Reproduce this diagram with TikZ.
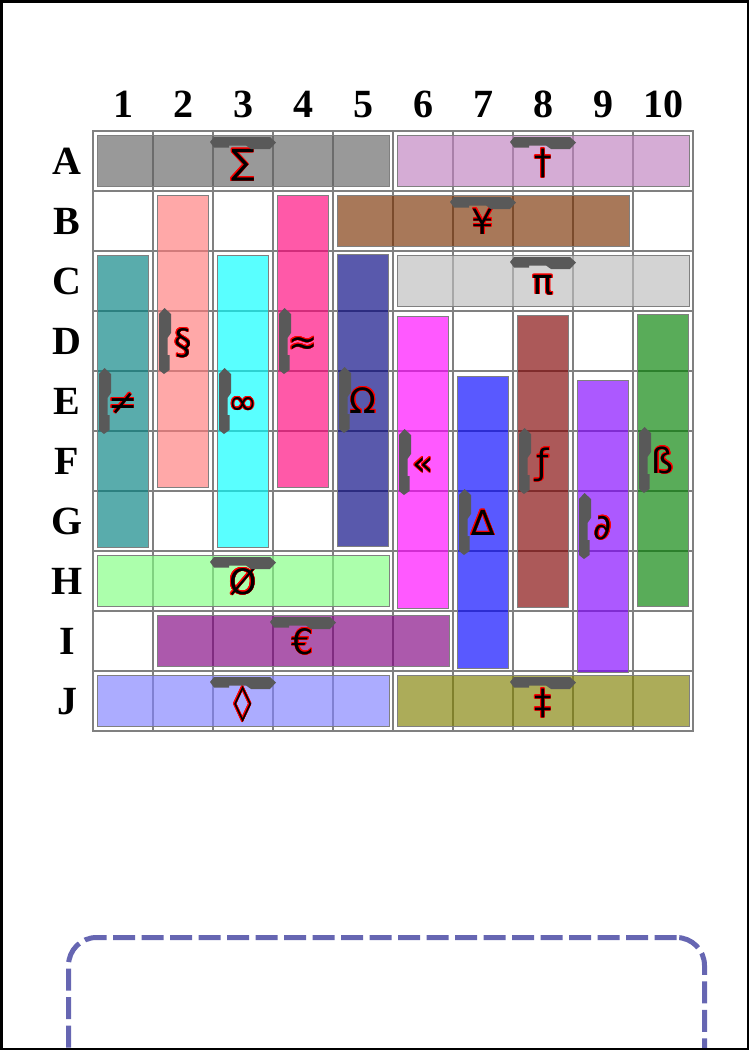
\documentclass[tikz,border=0pt]{standalone}
\usepackage{fontspec}
\setmainfont{Liberation Serif}
\newfontfamily\symfont{DejaVu Sans}
\usepackage{contour}
\contourlength{0.6pt}

% band colours (drawn at 65% fill opacity)
\definecolor{sumcol}{RGB}{98,98,98}
\definecolor{daggercol}{RGB}{191,128,191}
\definecolor{yencol}{RGB}{121,48,0}
\definecolor{picol}{RGB}{188,188,188}
\definecolor{neqcol}{RGB}{0,128,128}
\definecolor{sectcol}{RGB}{255,121,121}
\definecolor{inftycol}{RGB}{0,255,255}
\definecolor{approxcol}{RGB}{255,0,121}
\definecolor{omegacol}{RGB}{0,0,128}
\definecolor{guillcol}{RGB}{255,0,255}
\definecolor{deltacol}{RGB}{0,0,255}
\definecolor{fhookcol}{RGB}{128,0,0}
\definecolor{partialcol}{RGB}{128,0,255}
\definecolor{eszettcol}{RGB}{0,128,0}
\definecolor{oslashcol}{RGB}{128,255,128}
\definecolor{eurocol}{RGB}{128,0,128}
\definecolor{lozengecol}{RGB}{128,128,255}
\definecolor{ddaggercol}{RGB}{128,128,0}
\definecolor{tabgray}{RGB}{89,89,89}
\definecolor{notecol}{RGB}{102,102,178}

\begin{document}
\begin{tikzpicture}[
  x=1pt, y=-1pt,
  every node/.style={inner sep=0pt},
  head/.style={font=\fontsize{40}{40}\selectfont\bfseries, anchor=base},
  cell/.style={draw=gray, line width=1.2pt},
  band/.style={draw=gray, line width=1pt, fill opacity=0.65, text opacity=1,
               text height=26pt, text depth=0pt,
               font=\symfont\fontsize{35}{35}\selectfont},
  hband/.style={band, minimum width=292, minimum height=51},
  vband/.style={band, minimum width=51, minimum height=292},
  htab/.pic={\fill[tabgray] (-33,-19) -- (-29,-24) -- (27,-24) -- (33,-18.5)
    -- (27,-12) -- (8,-12) -- (3,-15.5) -- (-14,-15.5) -- (-14,-13.5)
    -- (-29,-13.5) -- cycle;},
  vtab/.pic={\fill[tabgray] (-19,33) -- (-24,29) -- (-24,-27) -- (-18.5,-33)
    -- (-12,-27) -- (-12,-8) -- (-15.5,-3) -- (-15.5,14) -- (-13.5,14)
    -- (-13.5,29) -- cycle;},
  notes/.style={draw=notecol, line width=5pt, dash pattern=on 22pt off 6.5pt,
                rounded corners=28pt, minimum width=636, minimum height=170,
                anchor=north west},
]
\useasboundingbox (0,0) rectangle (749,1050);
\clip (0,0) rectangle (749,1050);

% headers
\foreach \c in {1,...,10}
  \node[head] (col\c) at ({63+60*\c},117) {\c};
\foreach \r [count=\i] in {A,B,C,D,E,F,G,H,I,J}
  \node[head] (row\r) at (67,{114.5+60*\i}) {\r};

% grid
\foreach \c in {0,...,9}
  \foreach \r in {0,...,9}
    \draw[cell] ({93+60*\c},{131+60*\r}) rectangle ++(60,60);

% horizontal bands
\node[hband, fill=sumcol] (sum) at (243,161) {\contour{red}{∑}};
\node[hband, fill=daggercol] (dagger) at (543,161) {\contour{red}{†}};
\node[hband, fill=yencol] (yen) at (483,221) {\contour{red}{¥}};
\node[hband, fill=picol] (pi) at (543,281) {\contour{red}{π}};
\node[hband, fill=oslashcol] (oslash) at (243,581) {\contour{red}{Ø}};
\node[hband, fill=eurocol] (euro) at (303,641) {\contour{red}{€}};
\node[hband, fill=lozengecol] (lozenge) at (243,701) {\contour{red}{◊}};
\node[hband, fill=ddaggercol] (ddagger) at (543,701) {\contour{red}{‡}};

% vertical bands
\node[vband, fill=neqcol] (neq) at (123,401) {\contour{red}{≠}};
\node[vband, fill=sectcol] (sect) at (183,341) {\contour{red}{§}};
\node[vband, fill=inftycol] (infty) at (243,401) {\contour{red}{∞}};
\node[vband, fill=approxcol] (approx) at (303,341) {\contour{red}{≈}};
\node[vband, fill=omegacol] (omega) at (363,400) {\contour{red}{Ω}};
\node[vband, fill=guillcol] (guill) at (423,462) {\contour{red}{«}};
\node[vband, fill=deltacol] (delta) at (483,522) {\contour{red}{∆}};
\node[vband, fill=fhookcol] (fhook) at (543,461) {\contour{red}{ƒ}};
\node[vband, fill=partialcol] (partial) at (603,526) {\contour{red}{∂}};
\node[vband, fill=eszettcol] (eszett) at (663,460) {\contour{red}{ß}};

% handles
\foreach \b in {sum,dagger,yen,pi,oslash,euro,lozenge,ddagger}
  \pic at (\b) {htab};
\foreach \b in {neq,sect,infty,approx,omega,guill,delta,fhook,partial,eszett}
  \pic at (\b) {vtab};

% notes box
\node[notes] (notebox) at (66,935) {};

% page frame
\draw[line width=2.5pt] (1.25,1.25) rectangle (747.75,1048.75);
\end{tikzpicture}
\end{document}
